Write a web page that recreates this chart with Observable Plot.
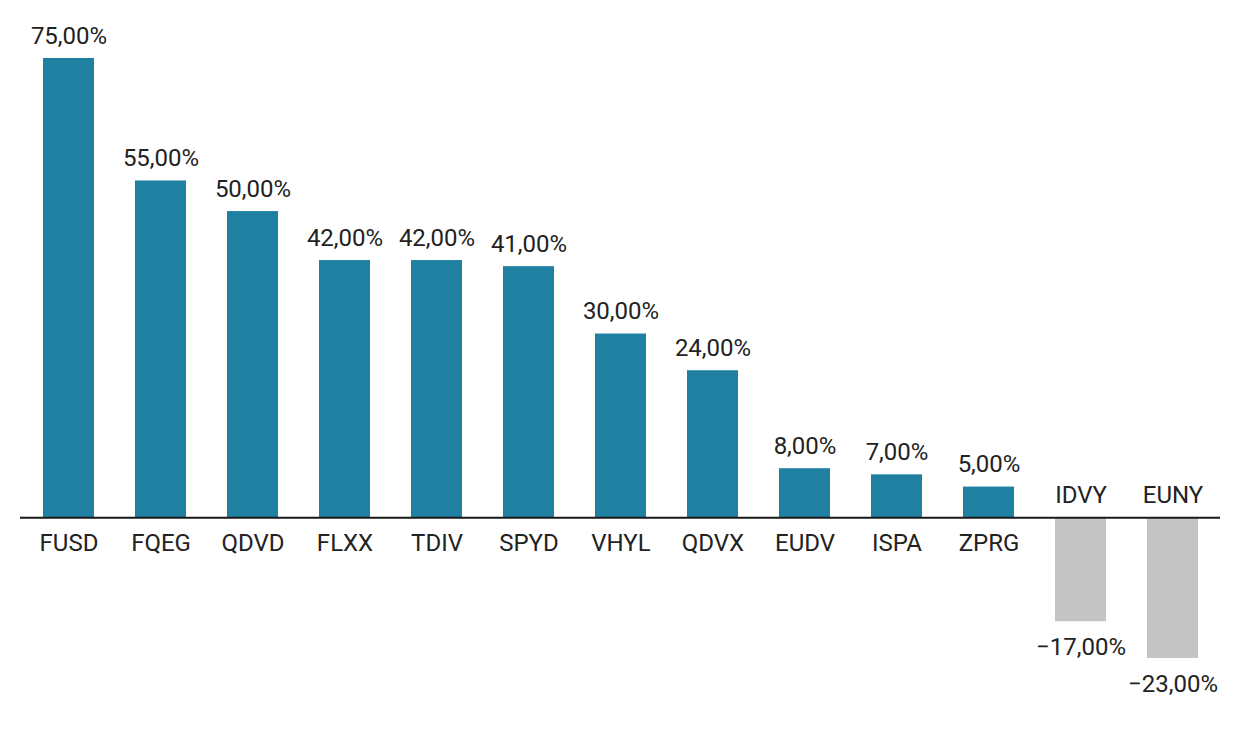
<!DOCTYPE html>
<html>
<head>
<meta charset="utf-8">
<script src="https://cdn.jsdelivr.net/npm/d3@7"></script>
<script src="https://cdn.jsdelivr.net/npm/@observablehq/plot@0.6"></script>
<style>
  html, body { margin: 0; padding: 0; background: #fff; }
  #chart { width: 1240px; height: 731px; }
</style>
</head>
<body>
<div id="chart"></div>
<script>
const tickers = ["FUSD","FQEG","QDVD","FLXX","TDIV","SPYD","VHYL","QDVX","EUDV","ISPA","ZPRG","IDVY","EUNY"];
const values = [75, 55, 50, 42, 42, 41, 30, 24, 8, 7, 5, -17, -23];

const data = tickers.map((t, i) => ({t, v: values[i]}));
const pos = data.filter(d => d.v >= 0);
const neg = data.filter(d => d.v < 0);

const locale = d3.formatLocale({decimal: ",", thousands: ".", grouping: [3], currency: ["", "€"], minus: "\u2212"});
const f = locale.format(".2f");
const fmt = d => f(d.v) + "%";

const txt = {fontSize: 24, fill: "#222"};

const chart = Plot.plot({
  width: 1240,
  height: 731,
  marginTop: 58,
  marginBottom: 73,
  marginLeft: 20,
  marginRight: 20,
  x: {domain: tickers, paddingInner: 0.447, paddingOuter: 0.228, axis: null},
  y: {domain: [-23, 75], axis: null},
  style: {fontFamily: "Roboto", fontSize: "24px", color: "#222", background: "#fff"},
  marks: [
    Plot.barY(pos, {x: "t", y: "v", fill: "#1f80a1"}),
    Plot.barY(neg, {x: "t", y: "v", fill: "#c4c4c4"}),
    Plot.ruleY([0], {stroke: "#1a1a1a", strokeWidth: 2}),
    Plot.text(pos, {x: "t", y: "v", text: fmt, lineAnchor: "bottom", dy: -15, ...txt}),
    Plot.text(neg, {x: "t", y: "v", text: fmt, lineAnchor: "top", dy: 16, ...txt}),
    Plot.text(pos, {x: "t", y: () => 0, text: "t", lineAnchor: "top", dy: 16, ...txt}),
    Plot.text(neg, {x: "t", y: () => 0, text: "t", lineAnchor: "bottom", dy: -15, ...txt})
  ]
});
document.getElementById("chart").appendChild(chart);
</script>
</body>
</html>
